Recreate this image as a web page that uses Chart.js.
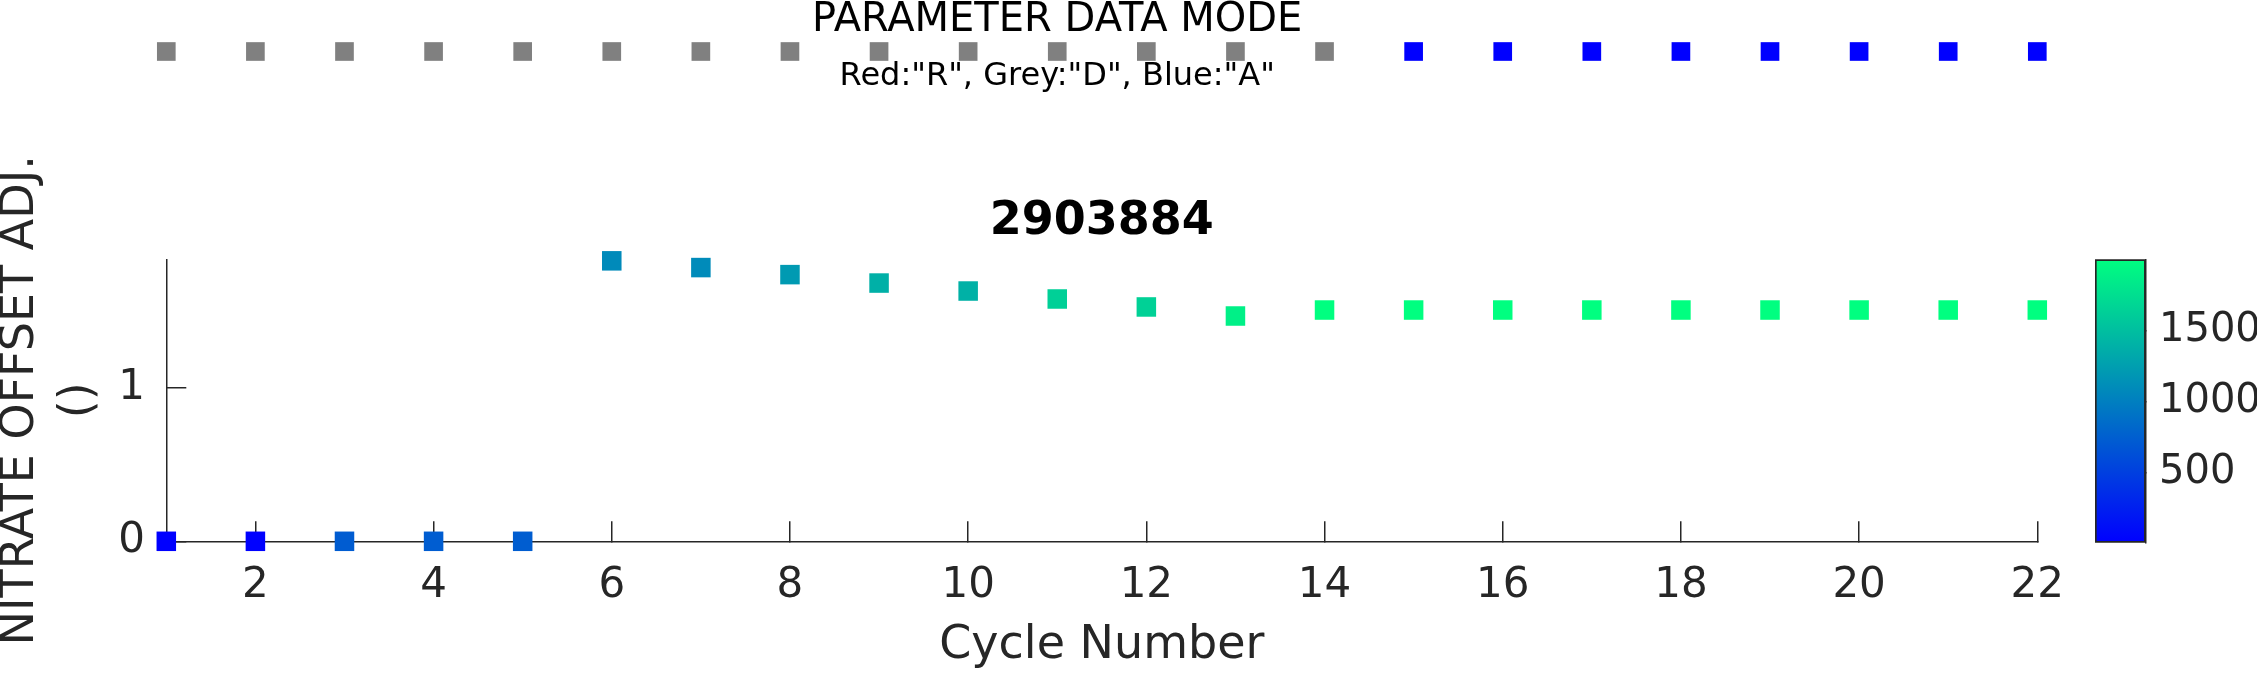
<!DOCTYPE html>
<html>
<head>
<meta charset="utf-8">
<script src="https://cdn.jsdelivr.net/npm/chart.js@4.4.1/dist/chart.umd.min.js"></script>
<style>
html,body{margin:0;padding:0;background:#fff;width:2257px;height:674px;overflow:hidden;}
canvas{position:absolute;}
#main{left:0;top:0;}
#mode{left:0;top:0;}
#cbar{left:2000px;top:0;}
</style>
</head>
<body>
<canvas id="main" width="2257" height="674"></canvas>
<canvas id="mode" width="2257" height="110"></canvas>
<canvas id="cbar" width="257" height="674"></canvas>
<script>
// ---- data ----
const cycleNumbers = [1,2,3,4,5,6,7,8,9,10,11,12,13,14,15,16,17,18,19,20,21,22];
const nitrateOffsetAdj = [0,0,0,0,0,1.830,1.786,1.740,1.685,1.633,1.581,1.529,1.470,1.509,1.509,1.509,1.509,1.509,1.509,1.509,1.509,1.509];
const colourValues = [5,8,725,730,735,1085,1090,1210,1385,1390,1635,1640,1880,2000,2000,2000,2000,2000,2000,2000,2000,2000];
const dataModes = ['D','D','D','D','D','D','D','D','D','D','D','D','D','D','A','A','A','A','A','A','A','A'];
const xTickValues = [2,4,6,8,10,12,14,16,18,20,22];
const yTickValues = [0,1];
const colourbarTicks = [500,1000,1500];
const yRange = [0, 1.84];
const xRange = [1, 22];
const modeXRange = [0, 22];
const colourRange = [4, 2000];
const modeColours = {R:'#FF0000', D:'#808080', A:'#0000FF'};
const mainTitle = '2903884';
const yLabel = ['NITRATE OFFSET ADJ.', '()'];
const xLabel = 'Cycle Number';
const modeTitle = 'PARAMETER DATA MODE';
const modeLabel = 'Red:"R", Grey:"D", Blue:"A"';

// ---- helpers ----
const AXIS = '#262626';
function winter(v){
  let t = (v - colourRange[0]) / (colourRange[1] - colourRange[0]);
  t = Math.max(0, Math.min(1, t));
  return 'rgb(0,' + Math.round(255*t) + ',' + Math.round(255*(1 - t/2)) + ')';
}
Chart.defaults.font.family = "'DejaVu Sans', sans-serif";
Chart.defaults.color = AXIS;
const common = {responsive:false, animation:false, devicePixelRatio:1, events:[]};

// ---- main chart ----
const pointColours = colourValues.map(winter);
new Chart(document.getElementById('main'), {
  type: 'scatter',
  data: { datasets: [{
    data: cycleNumbers.map((c,i) => ({x:c, y:nitrateOffsetAdj[i]})),
    pointStyle: 'rect', pointRadius: 13.8,
    backgroundColor: pointColours, borderColor: pointColours, borderWidth: 0,
    clip: false
  }]},
  options: Object.assign({}, common, {
    layout: {padding: {left:0, top:194.8, right:219.7, bottom:0}},
    plugins: {
      legend: {display:false}, tooltip: {enabled:false},
      title: {display:true, text: mainTitle, fullSize:false, color:'#000',
              font:{size:46, weight:'bold', lineHeight:1.2}, padding:{top:0, bottom:9.3}}
    },
    scales: {
      x: {
        type:'linear', min:xRange[0], max:xRange[1], position:'bottom',
        afterBuildTicks: s => { s.ticks = xTickValues.map(v => ({value:v})); },
        afterFit: s => { s.height = 132.7; },
        grid: {drawOnChartArea:false, drawTicks:true, tickLength:-20, color:AXIS, lineWidth:1.5},
        border: {display:true, color:AXIS, width:1.5},
        ticks: {font:{size:42}, color:AXIS, padding:40, maxRotation:0, autoSkip:false, callback: v => String(v)},
        title: {display:true, text:xLabel, color:AXIS, font:{size:46, lineHeight:1.2}, padding:{top:0, bottom:0}}
      },
      y: {
        type:'linear', min:yRange[0], max:yRange[1], position:'left',
        afterBuildTicks: s => { s.ticks = yTickValues.map(v => ({value:v})); },
        afterFit: s => { s.width = 166.3; },
        grid: {drawOnChartArea:false, drawTicks:true, tickLength:-20, color:AXIS, lineWidth:1.5},
        border: {display:true, color:AXIS, width:1.5},
        ticks: {font:{size:42}, color:AXIS, padding:41.3, callback: v => String(v)},
        title: {display:true, text:yLabel, color:AXIS, font:{size:46, lineHeight:1.25}, padding:{top:-7.45, bottom:0}}
      }
    }
  })
});

// ---- data mode strip ----
const modeColourList = dataModes.map(m => modeColours[m]);
new Chart(document.getElementById('mode'), {
  type: 'scatter',
  data: { datasets: [{
    data: cycleNumbers.map(c => ({x:c, y:1})),
    pointStyle:'rect', pointRadius:13.2,
    backgroundColor: modeColourList, borderColor: modeColourList, borderWidth:0,
    clip:false
  }]},
  options: Object.assign({}, common, {
    layout: {padding: {left:77.2, right:219.7, top:1, bottom:17}},
    plugins: {
      legend:{display:false}, tooltip:{enabled:false},
      title: {display:true, text:modeTitle, fullSize:false, color:'#000',
              font:{size:40, weight:'normal', lineHeight:1}, padding:0}
    },
    scales: {
      x: {
        type:'linear', min:modeXRange[0], max:modeXRange[1], display:true,
        grid:{display:false}, border:{display:false}, ticks:{display:false},
        afterFit: s => { s.height = 31; },
        title: {display:true, text:modeLabel, color:'#000', font:{size:32, weight:'normal', lineHeight:1}, padding:0}
      },
      y: {min:0, max:2, display:false}
    }
  })
});

// ---- colour bar ----
new Chart(document.getElementById('cbar'), {
  type: 'bar',
  data: { labels:[''], datasets: [{
    data: [colourRange],
    backgroundColor: ctx => {
      const chart = ctx.chart;
      if (!chart.chartArea) return 'rgb(0,128,200)';
      const y = chart.scales.y;
      const g = chart.ctx.createLinearGradient(0, y.getPixelForValue(colourRange[0]), 0, y.getPixelForValue(colourRange[1]));
      g.addColorStop(0, winter(colourRange[0]));
      g.addColorStop(1, winter(colourRange[1]));
      return g;
    },
    borderColor: AXIS, borderWidth: 2, borderSkipped: false,
    barPercentage: 1, categoryPercentage: 1
  }]},
  options: Object.assign({}, common, {
    layout: {padding: {left:95, top:259.3, bottom:131.3, right:0}},
    plugins: {legend:{display:false}, tooltip:{enabled:false}},
    scales: {
      x: {display:false},
      y: {
        position:'right', min:colourRange[0], max:colourRange[1],
        afterBuildTicks: s => { s.ticks = colourbarTicks.map(v => ({value:v})); },
        afterFit: s => { s.width = 111.3; },
        grid: {drawOnChartArea:false, drawTicks:true, tickLength:-4, color:AXIS, lineWidth:1.5},
        border: {display:true, color:AXIS, width:1.5},
        ticks: {font:{size:40}, color:AXIS, padding:17.3, callback: v => String(v)}
      }
    }
  })
});
</script>
</body>
</html>
